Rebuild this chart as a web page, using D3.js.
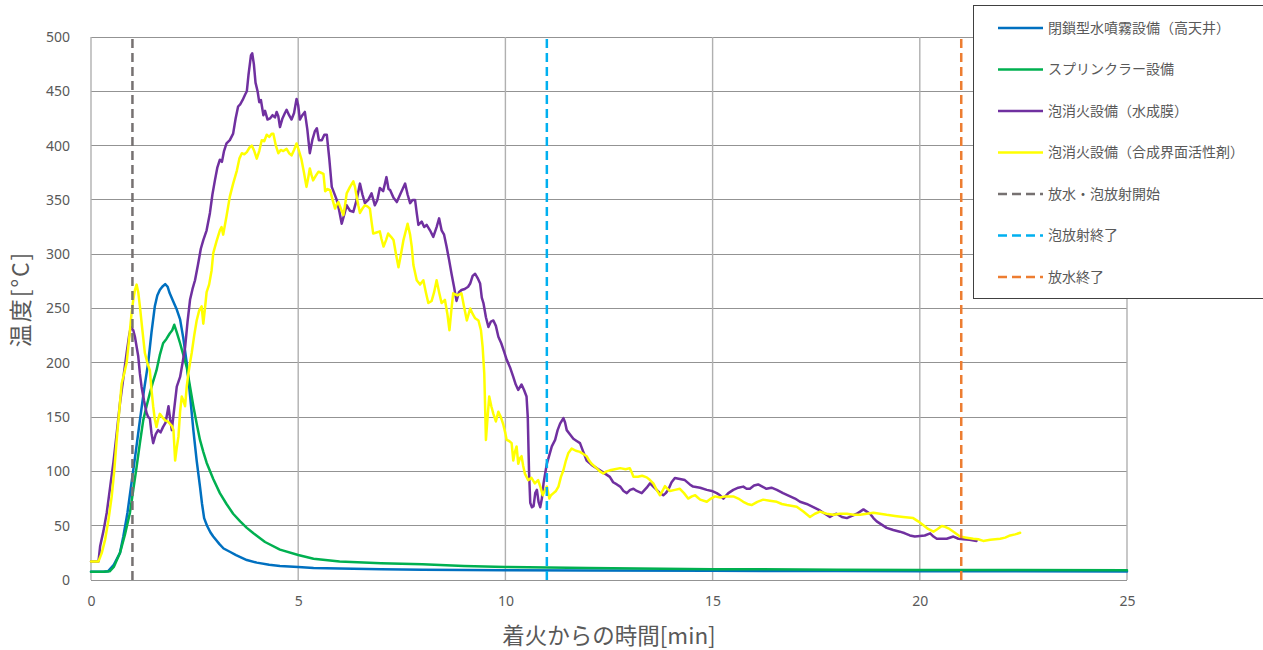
<!DOCTYPE html>
<html><head><meta charset="utf-8">
<script src="https://cdn.jsdelivr.net/npm/d3@7"></script>
<style>
html,body{margin:0;padding:0;background:#fff;}
svg{display:block;font-family:"Noto Sans CJK JP","Noto Sans",sans-serif;}
</style></head>
<body><svg id="c" width="1263" height="650"></svg>
<script>
// ---- data (time [min], temperature [°C]) ----
const xTicks = [0, 5, 10, 15, 20, 25];
const yTicks = [0, 50, 100, 150, 200, 250, 300, 350, 400, 450, 500];

const waterSprayData = [[0,7.6],[0.3,7.6],[0.41,8],[0.55,14],[0.7,25],[0.78,40],[0.88,62],[0.98,90],[1.08,118],[1.18,147],[1.28,175],[1.38,200],[1.46,228],[1.54,252],[1.6,262],[1.66,267],[1.72,270],[1.79,272.5],[1.85,270],[1.9,264],[1.98,257],[2.07,249],[2.15,240],[2.23,222],[2.31,200],[2.39,170],[2.47,138],[2.55,110],[2.63,86],[2.68,70],[2.73,57],[2.8,50],[2.88,44],[2.95,40],[3.1,33],[3.2,29],[3.35,26],[3.5,23],[3.76,18.4],[4.0,16],[4.3,14],[4.56,13],[5.0,12],[5.37,11],[6,10.5],[7,10],[8,9.5],[10,9],[12,8.8],[15,8.5],[18,8.2],[20,8],[22,8],[25,7.8]];

const sprinklerData = [[0,7.6],[0.3,7.6],[0.45,8],[0.55,12],[0.7,25],[0.82,42],[0.94,62],[1.02,83],[1.1,104],[1.18,126],[1.26,147],[1.34,160],[1.42,172],[1.5,183],[1.58,193],[1.66,207],[1.74,218],[1.82,222],[1.9,227],[1.96,230],[2.01,235],[2.07,228],[2.15,218],[2.23,207],[2.31,196],[2.39,178],[2.47,160],[2.55,144],[2.63,129],[2.71,118],[2.79,108],[2.95,93],[3.11,80],[3.27,70],[3.43,61],[3.6,54],[3.76,48],[3.92,43],[4.2,35],[4.56,28],[5.0,23],[5.37,19.5],[6,17],[7,15.5],[8,14.5],[9,13],[10,12],[12,11],[15,10],[18,9.5],[20,9.3],[22,9.2],[25,9]];

const afffData = [[0,17],[0.18,17],[0.22,31],[0.3,45],[0.38,62],[0.46,85],[0.54,108],[0.62,135],[0.7,163],[0.78,186],[0.86,209],[0.92,225],[0.96,233],[1.02,230],[1.06,224],[1.1,215],[1.14,206],[1.18,190],[1.22,178],[1.28,165],[1.34,154],[1.38,150],[1.42,149],[1.46,135],[1.5,126],[1.56,134],[1.62,138],[1.68,136],[1.74,141],[1.8,145],[1.87,160],[1.91,148],[1.95,138],[2.0,155],[2.07,178],[2.15,187],[2.21,200],[2.27,214],[2.33,238],[2.39,258],[2.45,268],[2.51,276],[2.58,290],[2.65,305],[2.71,313],[2.79,322],[2.87,338],[2.93,355],[2.99,368],[3.05,380],[3.11,387],[3.16,385],[3.21,395],[3.27,402],[3.35,405],[3.43,411],[3.49,425],[3.55,436],[3.6,438],[3.66,442],[3.72,447],[3.76,450],[3.8,465],[3.86,483],[3.89,485],[3.93,475],[3.97,458],[4.02,450],[4.06,440],[4.1,442],[4.16,428],[4.2,432],[4.26,424],[4.32,425],[4.38,428],[4.44,426],[4.48,431],[4.52,427],[4.56,417],[4.62,425],[4.68,430],[4.72,433],[4.78,428],[4.84,424],[4.9,430],[4.96,443],[5.0,437],[5.04,424],[5.1,428],[5.16,431],[5.22,415],[5.28,393],[5.34,405],[5.4,413],[5.45,416],[5.5,405],[5.57,405],[5.63,410],[5.69,410],[5.75,388],[5.81,362],[5.87,356],[5.93,350],[5.99,340],[6.05,328],[6.1,335],[6.17,345],[6.25,340],[6.33,339],[6.41,350],[6.49,365],[6.55,355],[6.61,347],[6.69,350],[6.77,356],[6.85,345],[6.91,350],[6.97,361],[7.05,358],[7.13,371],[7.18,360],[7.22,359],[7.3,352],[7.38,348],[7.46,355],[7.52,360],[7.58,365],[7.64,355],[7.7,347],[7.76,350],[7.82,350],[7.86,338],[7.9,327],[7.98,330],[8.04,325],[8.1,327],[8.18,322],[8.26,316],[8.34,325],[8.4,333],[8.46,322],[8.52,318],[8.58,307],[8.64,295],[8.7,282],[8.76,270],[8.82,257],[8.88,265],[8.94,267],[9.02,268],[9.1,270],[9.15,273],[9.21,280],[9.27,282],[9.33,278],[9.39,273],[9.43,260],[9.47,255],[9.53,242],[9.59,233],[9.65,238],[9.71,239],[9.77,234],[9.83,224],[9.9,218],[9.97,210],[10.03,203],[10.11,196],[10.19,187],[10.25,180],[10.31,175],[10.39,180],[10.45,175],[10.51,169],[10.54,150],[10.57,100],[10.6,71],[10.64,67],[10.68,68],[10.72,80],[10.76,83],[10.8,72],[10.84,67],[10.88,75],[10.92,89],[10.96,98],[11.0,107],[11.06,115],[11.12,123],[11.2,129],[11.26,138],[11.32,144],[11.4,149],[11.44,145],[11.48,138],[11.56,134],[11.64,130],[11.72,128],[11.8,126],[11.88,118],[11.96,110],[12.08,106],[12.2,103],[12.32,100],[12.44,97],[12.52,95],[12.6,90],[12.69,88],[12.77,86],[12.85,82],[12.93,80],[13.01,83],[13.09,84],[13.17,82],[13.29,80],[13.41,85],[13.49,89],[13.57,86],[13.65,83],[13.73,80],[13.81,78],[13.87,80],[13.93,83],[14.01,90],[14.09,94],[14.21,93],[14.33,92],[14.45,88],[14.53,86],[14.7,85],[14.86,83],[14.98,82],[15.1,80],[15.18,78],[15.26,75],[15.38,80],[15.5,83],[15.62,85],[15.74,86],[15.82,84],[15.9,84],[16.0,87],[16.1,88],[16.2,86],[16.3,84],[16.42,85],[16.55,83],[16.7,80],[16.87,77],[16.99,75],[17.11,72],[17.27,70],[17.43,67],[17.59,64],[17.71,61],[17.83,58],[17.91,60],[17.99,61],[18.12,58],[18.24,57],[18.36,59],[18.48,61],[18.56,63],[18.64,65],[18.72,63],[18.8,61],[18.88,57],[18.96,54],[19.08,51],[19.2,48],[19.36,46],[19.52,44.5],[19.64,43],[19.76,41],[19.88,40],[20.0,40.5],[20.12,41],[20.25,43],[20.33,40],[20.41,38],[20.53,38],[20.65,38],[20.81,40],[20.93,38],[21.05,37.5],[21.2,37],[21.37,36]];

const syntheticData = [[0,17],[0.18,17],[0.26,25],[0.34,37],[0.42,55],[0.5,77],[0.56,100],[0.62,129],[0.68,155],[0.74,181],[0.8,190],[0.86,200],[0.92,222],[0.98,246],[1.02,258],[1.06,267],[1.1,272],[1.14,265],[1.18,252],[1.24,230],[1.3,209],[1.36,200],[1.42,193],[1.46,175],[1.5,160],[1.54,148],[1.58,141],[1.62,148],[1.66,153],[1.72,150],[1.79,147],[1.85,146],[1.9,144],[1.95,142],[1.99,138],[2.03,110],[2.07,122],[2.11,132],[2.15,155],[2.19,169],[2.23,165],[2.27,160],[2.31,178],[2.35,190],[2.39,200],[2.43,209],[2.49,225],[2.55,239],[2.61,248],[2.67,252],[2.71,236],[2.75,250],[2.79,265],[2.85,272],[2.91,285],[2.95,301],[3.03,312],[3.11,322],[3.15,325],[3.19,318],[3.27,335],[3.35,353],[3.43,365],[3.52,377],[3.58,388],[3.64,393],[3.7,392],[3.76,394],[3.82,398],[3.88,400],[3.94,395],[4.0,388],[4.06,395],[4.12,405],[4.18,404],[4.24,410],[4.3,408],[4.36,411],[4.4,411],[4.46,400],[4.52,393],[4.58,396],[4.64,395],[4.72,397],[4.78,393],[4.84,391],[4.9,396],[4.96,402],[5.02,395],[5.08,387],[5.14,375],[5.2,362],[5.24,370],[5.28,379],[5.32,373],[5.36,368],[5.42,372],[5.49,376],[5.55,375],[5.61,374],[5.65,358],[5.71,360],[5.77,359],[5.83,350],[5.89,342],[5.93,346],[5.97,348],[6.03,342],[6.09,336],[6.13,345],[6.17,356],[6.25,362],[6.33,367],[6.37,362],[6.41,353],[6.45,345],[6.49,338],[6.55,342],[6.61,345],[6.67,344],[6.73,342],[6.77,330],[6.81,319],[6.89,320],[6.97,321],[7.01,314],[7.06,307],[7.12,313],[7.17,319],[7.24,316],[7.3,313],[7.36,300],[7.42,288],[7.48,300],[7.54,313],[7.6,322],[7.64,328],[7.7,318],[7.74,307],[7.78,290],[7.86,276],[7.94,272],[8.02,276],[8.08,265],[8.14,255],[8.22,257],[8.28,265],[8.34,276],[8.4,265],[8.46,255],[8.54,258],[8.6,245],[8.65,230],[8.7,250],[8.74,264],[8.84,262],[8.94,264],[9.0,252],[9.07,239],[9.15,250],[9.21,245],[9.27,241],[9.35,239],[9.41,230],[9.45,215],[9.49,190],[9.51,160],[9.53,129],[9.57,150],[9.61,169],[9.66,160],[9.71,153],[9.77,146],[9.83,155],[9.89,150],[9.95,143],[10.0,135],[10.03,129],[10.09,128],[10.15,126],[10.19,110],[10.23,118],[10.27,123],[10.31,107],[10.35,112],[10.39,114],[10.43,105],[10.47,98],[10.51,95],[10.55,92],[10.63,94],[10.71,89],[10.79,92],[10.85,85],[10.9,78],[10.96,83],[11.0,86],[11.06,75],[11.1,78],[11.16,80],[11.22,82],[11.28,86],[11.34,95],[11.4,101],[11.46,110],[11.52,117],[11.6,121],[11.7,119],[11.8,118],[11.88,116],[11.96,114],[12.02,110],[12.08,107],[12.2,103],[12.28,100],[12.36,98],[12.44,100],[12.52,101],[12.64,102],[12.77,103],[12.9,102],[13.0,103],[13.05,99],[13.09,95],[13.2,95],[13.3,96],[13.41,94.5],[13.49,92],[13.57,89],[13.65,83],[13.73,78],[13.79,82],[13.85,86.5],[13.91,84],[13.97,82],[14.09,83],[14.21,84],[14.31,80],[14.41,75],[14.5,77],[14.58,78],[14.64,76],[14.7,74],[14.86,72],[14.96,75],[15.06,77],[15.18,76],[15.3,77],[15.5,77],[15.62,75],[15.74,72],[15.84,70],[15.94,69],[16.08,72],[16.22,74],[16.38,73],[16.55,72],[16.67,70],[16.79,69],[17.03,67.5],[17.19,63],[17.35,58],[17.47,61],[17.59,63],[17.75,61],[17.91,60],[18.08,61],[18.24,61],[18.4,60],[18.56,60],[18.72,61],[18.88,62],[19.04,61],[19.2,60],[19.4,59],[19.6,58],[19.84,57],[19.96,54],[20.08,50.6],[20.2,47],[20.33,44.5],[20.43,47],[20.53,49.7],[20.61,49],[20.69,47.6],[20.83,44],[20.97,40],[21.13,39],[21.29,38],[21.41,37.5],[21.53,36],[21.7,37],[21.94,38],[22.06,39],[22.18,41],[22.3,42],[22.42,43.5]];

const eventTimes = [1, 11, 21];
const seriesNames = ["閉鎖型水噴霧設備（高天井）", "スプリンクラー設備", "泡消火設備（水成膜）", "泡消火設備（合成界面活性剤）"];
const eventNames = ["放水・泡放射開始", "泡放射終了", "放水終了"];
const seriesColors = ["#0070C0", "#00B050", "#7030A0", "#FFFF00"];
const eventColors = ["#767171", "#00B0F0", "#ED7D31"];

// ---- chart ----
const svg = d3.select("#c");
const x = d3.scaleLinear().domain([0, 25]).range([91, 1127]);
const y = d3.scaleLinear().domain([0, 500]).range([580, 37]);
const textColor = "#595959";

// gridlines
svg.append("g").selectAll("line").data(yTicks).join("line")
  .attr("x1", x(0)).attr("x2", x(25))
  .attr("y1", d => y(d)).attr("y2", d => y(d))
  .attr("stroke", "#939393").attr("stroke-width", 1).attr("shape-rendering", "crispEdges");
svg.append("g").selectAll("line").data(xTicks).join("line")
  .attr("x1", d => x(d)).attr("x2", d => x(d))
  .attr("y1", y(0)).attr("y2", y(500))
  .attr("stroke", "#b0b0b0").attr("stroke-width", 1.4);

// axes
const xAxis = d3.axisBottom(x).tickValues(xTicks).tickSize(0).tickPadding(16);
const gx = svg.append("g").attr("transform", `translate(0,${y(0)})`).call(xAxis);
gx.select(".domain").remove();
gx.selectAll("text").attr("fill", textColor).style("font-size", "14px").style("font-family", "'Noto Sans','Open Sans',sans-serif");

const yAxis = d3.axisLeft(y).tickValues(yTicks).tickSize(0).tickPadding(21);
const gy = svg.append("g").attr("transform", `translate(${x(0)},0)`).call(yAxis);
gy.select(".domain").remove();
gy.selectAll("text").attr("fill", textColor).style("font-size", "14px").style("font-family", "'Noto Sans','Open Sans',sans-serif");

// axis titles
svg.append("text").attr("x", 609).attr("y", 644).attr("text-anchor", "middle")
  .attr("fill", textColor).style("font-size", "22.5px").text("着火からの時間[min]");
svg.append("text").attr("transform", "translate(29,299) rotate(-90)").attr("text-anchor", "middle")
  .attr("fill", textColor).style("font-size", "23px").style("letter-spacing", "2px").text("温度[°C]");

// series lines
const line = d3.line().x(d => x(d[0])).y(d => y(d[1]));
const allSeries = [waterSprayData, sprinklerData, afffData, syntheticData];
svg.append("g").selectAll("path").data(allSeries).join("path")
  .attr("d", line).attr("fill", "none")
  .attr("stroke", (d, i) => seriesColors[i]).attr("stroke-width", 2.5)
  .attr("stroke-linejoin", "round").attr("stroke-linecap", "round");

// event dashed lines
svg.append("g").selectAll("line").data(eventTimes).join("line")
  .attr("x1", d => x(d)).attr("x2", d => x(d))
  .attr("y1", y(0)).attr("y2", y(500))
  .attr("stroke", (d, i) => eventColors[i]).attr("stroke-width", 2.5)
  .attr("stroke-dasharray", "9,5");

// legend
const lg = svg.append("g");
lg.append("rect").attr("x", 973.5).attr("y", 5.5).attr("width", 300).attr("height", 293)
  .attr("fill", "#fff").attr("stroke", "#404040").attr("stroke-width", 1);
const legendItems = seriesNames.map((n, i) => ({name: n, color: seriesColors[i], dash: null}))
  .concat(eventNames.map((n, i) => ({name: n, color: eventColors[i], dash: "9,5"})));
const rowY = d3.scaleLinear().domain([0, 6]).range([28, 277]);
const li = lg.selectAll("g.item").data(legendItems).join("g").attr("class", "item")
  .attr("transform", (d, i) => `translate(0,${rowY(i)})`);
li.append("line").attr("x1", 998).attr("x2", 1043).attr("y1", 0).attr("y2", 0)
  .attr("stroke", d => d.color).attr("stroke-width", 2.5)
  .attr("stroke-dasharray", d => d.dash);
li.append("text").attr("x", 1048).attr("y", 0).attr("dy", "0.35em")
  .attr("fill", textColor).style("font-size", "14px").text(d => d.name);
</script></body></html>
